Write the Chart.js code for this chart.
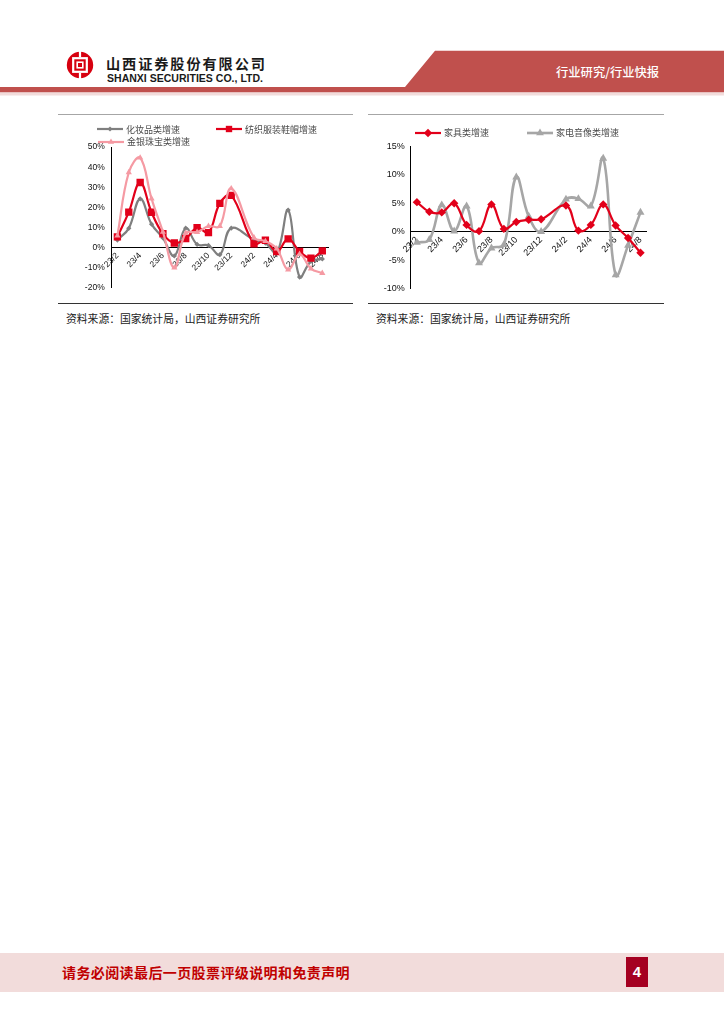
<!DOCTYPE html>
<html>
<head>
<meta charset="utf-8">
<script src="https://cdn.jsdelivr.net/npm/chart.js@4.4.1/dist/chart.umd.min.js"></script>
<style>
  body { margin: 0; background: #fff; }
  #page { position: relative; width: 724px; height: 1024px; overflow: hidden; background: #fff;
          font-family: "Liberation Sans", Arial, sans-serif; }
  .abs { position: absolute; }
  .cjk { font-family: "Noto Sans CJK SC", "Noto Sans", sans-serif; }
  .legend-item { position: absolute; display: flex; align-items: center; height: 12px;
                 font-family: "Noto Sans CJK SC", sans-serif; font-size: 9px; color: #4a4a4a; white-space: nowrap; }
  .legend-item svg { margin-right: 3px; }
  .rule { position: absolute; height: 0; }
  .source { position: absolute; font-family: "Noto Sans CJK SC", sans-serif; font-size: 10.8px; color: #222;
            line-height: 12px; white-space: nowrap; }
</style>
</head>
<body>
<div id="page">
  <!-- header band -->
  <svg class="abs" style="left:0;top:0" width="724" height="100">
    <polygon points="435,50.7 724,50.7 724,92.5 0,92.5 0,87 405,87" fill="#c0504d"/>
    <rect x="0" y="92.5" width="724" height="3" fill="#f2dcdb"/>
  </svg>
  <svg class="abs" style="left:66px;top:51px" width="28" height="28" viewBox="0 0 28 28">
    <circle cx="14" cy="14" r="13.2" fill="#d7000f"/>
    <rect x="7.2" y="7.2" width="13.6" height="13.6" fill="none" stroke="#fff" stroke-width="2.2"/>
    <rect x="11.2" y="11.2" width="5.6" height="5.6" fill="none" stroke="#fff" stroke-width="1.6"/>
    <rect x="12.9" y="0" width="2.2" height="6.2" fill="#fff"/>
    <rect x="12.9" y="21.8" width="2.2" height="6.2" fill="#fff"/>
  </svg>
  <div class="abs cjk" style="left:106px;top:55.5px;font-size:14.2px;font-weight:700;letter-spacing:1.9px;color:#1a1a1a;line-height:15px;white-space:nowrap">山西证券股份有限公司</div>
  <div id="en-name" class="abs" style="left:107px;top:73.5px;font-size:10px;font-weight:700;color:#1a1a1a;line-height:9px;white-space:nowrap;transform-origin:0 0">SHANXI SECURITIES CO., LTD.</div>
  <div class="abs cjk" style="left:556px;top:64px;font-size:12.3px;font-weight:500;color:#fff;line-height:16px;white-space:nowrap">行业研究/行业快报</div>

  <!-- chart frames -->
  <div class="rule" style="left:58px;top:113.5px;width:295px;border-top:1px solid #a6a6a6"></div>
  <div class="rule" style="left:368px;top:113.5px;width:296px;border-top:1px solid #a6a6a6"></div>
  <div class="rule" style="left:58px;top:302.5px;width:295px;border-top:1px solid #333"></div>
  <div class="rule" style="left:368px;top:302.5px;width:296px;border-top:1px solid #333"></div>

  <div class="abs" style="left:60px;top:135px;width:295px;height:165px"><canvas id="leftChart" width="295" height="165"></canvas></div>
  <div class="abs" style="left:370px;top:135px;width:294px;height:165px"><canvas id="rightChart" width="294" height="165"></canvas></div>
  <div id="legends"></div>

  <div class="source" style="left:66px;top:311.5px">资料来源：国家统计局，山西证券研究所</div>
  <div class="source" style="left:376px;top:311.5px">资料来源：国家统计局，山西证券研究所</div>

  <!-- footer -->
  <div class="abs" style="left:0;top:953px;width:724px;height:39px;background:#f2dcdb"></div>
  <div class="abs cjk" style="left:62px;top:963px;font-size:14px;font-weight:700;color:#c00000;letter-spacing:0.4px;line-height:18px;white-space:nowrap">请务必阅读最后一页股票评级说明和免责声明</div>
  <div class="abs" style="left:626px;top:957px;width:22px;height:30px;background:#a50021;color:#fff;font-size:15px;font-weight:700;line-height:30px;text-align:center">4</div>
</div>

<script>
// Monthly categories (Jan data is released together with Feb, so 24/1 stays empty)
const categories = ['23/2','23/3','23/4','23/5','23/6','23/7','23/8','23/9','23/10','23/11','23/12',
                    '24/1','24/2','24/3','24/4','24/5','24/6','24/7','24/8'];
const xTickLabels = ['23/2','23/4','23/6','23/8','23/10','23/12','24/2','24/4','24/6','24/8'];

// Retail sales growth, % y/y
const cosmeticsGrowth = [3.8, 9.6, 24.3, 11.7, 4.8, -4.1, 9.7, 1.6, 1.1, -3.5, 9.7, null, 4.0, 2.3, -2.7, 18.7, -14.6, -6.8, -5.6];
const apparelGrowth   = [5.4, 17.7, 32.4, 17.6, 6.9, 2.3, 4.5, 9.9, 7.5, 22.0, 26.0, null, 1.9, 3.7, -2.0, 4.4, -1.9, -5.2, -1.6];
const jewelryGrowth   = [5.9, 37.4, 44.7, 24.4, 7.8, -10.0, 7.2, 7.7, 10.7, 10.7, 29.4, null, 5.0, 3.2, -0.5, -11.0, -3.2, -10.4, -12.7];
const furnitureGrowth = [5.2, 3.5, 3.4, 5.0, 1.2, 0.1, 4.8, 0.5, 1.7, 2.1, 2.2, null, 4.6, 0.2, 1.2, 4.8, 1.1, -1.1, -3.7];
const applianceGrowth = [-1.9, -1.4, 4.7, 0.1, 4.5, -5.5, -2.9, -2.3, 9.6, 2.7, 0.0, null, 5.7, 5.8, 4.5, 12.9, -7.6, -2.4, 3.4];

// Y axis ranges
const leftYTicks  = { min: -20, max: 50, step: 10 };
const rightYTicks = { min: -10, max: 15, step: 5 };

const leftSeries = [
  { label: '化妆品类增速',     data: cosmeticsGrowth, color: '#7f7f7f', width: 2.2, point: 'rectRot',  radius: 2.6, order: 3 },
  { label: '纺织服装鞋帽增速', data: apparelGrowth,   color: '#e2001a', width: 2.2, point: 'rect',     radius: 5.2, order: 2 },
  { label: '金银珠宝类增速',   data: jewelryGrowth,   color: '#f59aa3', width: 2.2, point: 'triangle', radius: 3.6, order: 1 }
];
const rightSeries = [
  { label: '家具类增速',     data: furnitureGrowth, color: '#e2001a', width: 2.2, point: 'rectRot',  radius: 4.2, order: 1 },
  { label: '家电音像类增速', data: applianceGrowth, color: '#a6a6a6', width: 2.6, point: 'triangle', radius: 4.6, order: 2 }
];

// legend placement on the page (left, top of each 12px row)
const leftLegendPos  = [[97, 123], [216, 123], [98, 135.5]];
const rightLegendPos = [[415, 126.5], [527, 126.5]];

function markerSvg(s) {
  const cx = 13, cy = 6, r = Math.min(s.radius, 4.5);
  let m = '';
  if (s.point === 'rect') {
    const h = r * Math.SQRT1_2;
    m = `<rect x="${cx - h}" y="${cy - h}" width="${2 * h}" height="${2 * h}" fill="${s.color}"/>`;
  } else if (s.point === 'rectRot') {
    m = `<polygon points="${cx},${cy - r} ${cx + r},${cy} ${cx},${cy + r} ${cx - r},${cy}" fill="${s.color}"/>`;
  } else if (s.point === 'triangle') {
    m = `<polygon points="${cx},${cy - r} ${cx + r * 0.87},${cy + r * 0.5} ${cx - r * 0.87},${cy + r * 0.5}" fill="${s.color}"/>`;
  }
  return `<svg width="26" height="12"><line x1="0" y1="6" x2="26" y2="6" stroke="${s.color}" stroke-width="${s.width}"/>${m}</svg>`;
}

function buildLegend(series, pos) {
  const host = document.getElementById('legends');
  series.forEach((s, i) => {
    const el = document.createElement('div');
    el.className = 'legend-item';
    el.style.left = pos[i][0] + 'px';
    el.style.top = pos[i][1] + 'px';
    el.innerHTML = markerSvg(s) + `<span>${s.label}</span>`;
    host.appendChild(el);
  });
}

function makeChart(id, series, yt, opts) {
  return new Chart(document.getElementById(id), {
    type: 'line',
    data: {
      labels: categories,
      datasets: series.map(s => ({
        label: s.label,
        data: s.data,
        borderColor: s.color,
        backgroundColor: s.color,
        borderWidth: s.width,
        pointStyle: s.point,
        pointRadius: s.radius,
        pointBorderWidth: 0,
        pointHoverRadius: s.radius,
        tension: 0.4,
        spanGaps: true,
        order: s.order,
        fill: false
      }))
    },
    options: {
      responsive: false,
      animation: false,
      devicePixelRatio: 1,
      layout: { padding: opts.padding },
      plugins: { legend: { display: false }, tooltip: { enabled: false } },
      scales: {
        x: {
          type: 'category',
          offset: true,
          position: { y: 0 },
          grid: { display: false, drawTicks: false },
          border: { display: true, color: '#000', width: 1 },
          ticks: {
            autoSkip: false,
            minRotation: 45,
            maxRotation: 45,
            padding: 3,
            color: '#111',
            font: { family: 'Liberation Sans', size: opts.xFont },
            callback: (v, i) => xTickLabels.includes(categories[i]) ? categories[i] : ''
          }
        },
        y: {
          min: yt.min,
          max: yt.max,
          grid: { display: false, drawTicks: false },
          border: { display: true, color: '#000', width: 1 },
          afterFit: scale => { scale.width = opts.yWidth; },
          ticks: {
            stepSize: yt.step,
            padding: opts.yPad,
            color: '#111',
            font: { family: 'Liberation Sans', size: opts.yFont },
            callback: v => v + '%'
          }
        }
      }
    }
  });
}

makeChart('leftChart', leftSeries, leftYTicks, {
  padding: { top: 8.3, bottom: 11, left: 0, right: 27 },
  yWidth: 51.7, yPad: 7, yFont: 8.5, xFont: 8.5
});
makeChart('rightChart', rightSeries, rightYTicks, {
  padding: { top: 6, bottom: 8.5, left: 0, right: 17.3 },
  yWidth: 40.7, yPad: 6, yFont: 9, xFont: 9
});

buildLegend(leftSeries, leftLegendPos);
buildLegend(rightSeries, rightLegendPos);

// fit the English company name to the width of the Chinese name above it
const en = document.getElementById('en-name');
const w = en.getBoundingClientRect().width;
if (w > 0) en.style.transform = `scaleX(${156 / w})`;
</script>
</body>
</html>
